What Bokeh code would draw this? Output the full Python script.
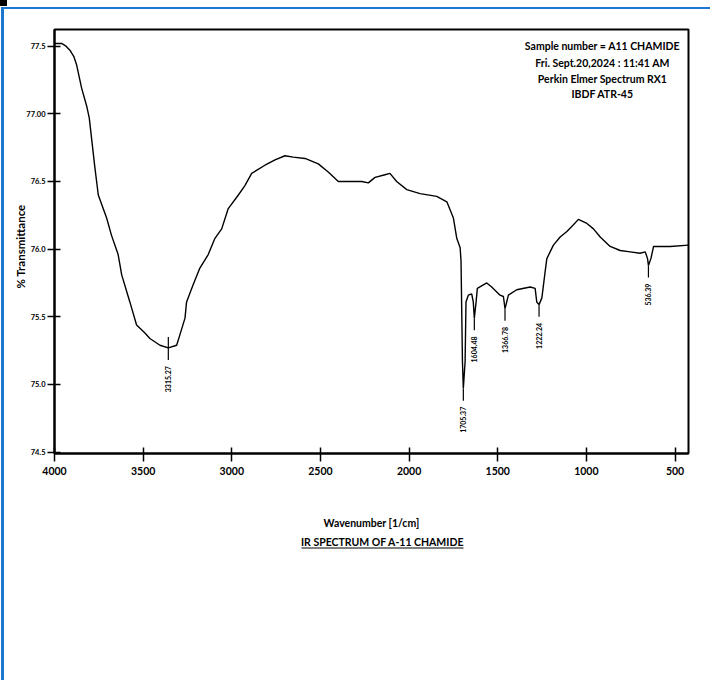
import math
from bokeh.plotting import figure
from bokeh.layouts import column
from bokeh.models import (Range1d, FixedTicker, CustomJSTickFormatter, Label, Title, Div)
from bokeh.core.properties import value
from bokeh.embed import file_html
from bokeh.resources import INLINE

# ---------------- data ----------------
wavenumber = [4000, 3960, 3935, 3913, 3890, 3875, 3847, 3819, 3804, 3791, 3772, 3753,
              3706, 3678, 3641, 3621, 3575, 3537, 3490, 3462, 3405, 3358, 3311, 3292,
              3264, 3255, 3217, 3180, 3133, 3095, 3057, 3020, 2963, 2926, 2888, 2813,
              2756, 2700, 2653, 2587, 2512, 2456, 2399, 2343, 2267, 2230, 2192, 2136,
              2108, 2070, 2013, 1938, 1844, 1787, 1750, 1731, 1712, 1707, 1699, 1694,
              1684, 1679, 1666, 1647, 1638, 1632, 1622, 1615, 1562, 1534, 1487, 1468,
              1459, 1453, 1440, 1393, 1317, 1289, 1280, 1267, 1251, 1233, 1223, 1186,
              1148, 1110, 1073, 1045, 997, 960, 922, 866, 809, 753, 697, 668, 655, 650,
              636, 621, 527, 424]
transmittance = [77.52, 77.52, 77.50, 77.47, 77.42, 77.36, 77.19, 77.06, 76.97, 76.82, 76.60, 76.40,
                 76.23, 76.10, 75.96, 75.81, 75.61, 75.44, 75.38, 75.34, 75.29, 75.27, 75.29, 75.37,
                 75.49, 75.61, 75.74, 75.86, 75.96, 76.08, 76.15, 76.30, 76.40, 76.47, 76.56, 76.62,
                 76.66, 76.69, 76.68, 76.67, 76.63, 76.57, 76.50, 76.50, 76.50, 76.49, 76.53, 76.55,
                 76.56, 76.50, 76.44, 76.41, 76.39, 76.35, 76.23, 76.08, 76.01, 75.91, 75.17, 74.97,
                 75.17, 75.61, 75.66, 75.67, 75.61, 75.49, 75.61, 75.71, 75.75, 75.72, 75.66, 75.65,
                 75.56, 75.59, 75.66, 75.70, 75.72, 75.71, 75.61, 75.59, 75.64, 75.83, 75.93, 76.03,
                 76.09, 76.13, 76.18, 76.22, 76.19, 76.15, 76.09, 76.02, 75.99, 75.98, 75.97, 75.98,
                 75.93, 75.88, 75.93, 76.02, 76.02, 76.03]

peak_pos = [3358, 1694, 1632, 1459, 1267, 650]
peak_T = [75.27, 74.97, 75.49, 75.56, 75.59, 75.88]
peak_labels = ["3315.27", "1705.37", "1604.48", "1366.78", "1222.24", "536.39"]

x_ticks = [4000, 3500, 3000, 2500, 2000, 1500, 1000, 500]
y_ticks = [77.5, 77.0, 76.5, 76.0, 75.5, 75.0, 74.5]

info_lines = ["Sample number = A11 CHAMIDE", "Fri. Sept.20,2024 : 11:41 AM",
              "Perkin Elmer Spectrum RX1", "IBDF ATR-45"]
caption = "IR SPECTRUM OF A-11 CHAMIDE"

# ---------------- layout (page pixels) ----------------
W, H = 713, 682
STRIP = 7                              # strip above the blue top border
OX = 4                                 # 1px margin + 3px blue left border
TOPB = 2                               # blue top border width
SPLIT = 532                            # page y where the chart figure ends
CW = W - OX
H1 = SPLIT - STRIP - TOPB
H2 = H - SPLIT
FL, FR, FT, FB = 54, 688, 29, 453      # frame edges in page pixels

def sx(px):
    return px - FL

def sy(py):
    return FB - py

FONT = "Lato"
BLUE = "#1a78d0"

# --- small black block in the top-left corner ---
block = Div(width=7, height=6, margin=(0, 0, 1, 0), styles={"background-color": "black"})

# --- main chart ---
p = figure(width=CW, height=H1, output_backend="svg", toolbar_location=None,
           x_range=Range1d(4000, 424), y_range=Range1d(74.49, 77.623),
           min_border_left=FL - OX, min_border_right=W - FR,
           min_border_top=FT - STRIP - TOPB, min_border_bottom=SPLIT - FB)
p.styles = {"margin-left": "1px",
            "border-left": "3px solid " + BLUE, "border-top": "2px solid " + BLUE}
p.background_fill_color = "white"
p.border_fill_color = "white"
p.outline_line_color = "black"
p.outline_line_width = 2
p.grid.visible = False

for ax in (p.xaxis[0], p.yaxis[0]):
    ax.axis_line_width = 2
    ax.axis_line_color = "black"
    ax.major_tick_line_width = 1.5
    ax.major_tick_line_color = "black"
    ax.minor_tick_line_color = None
    ax.major_label_text_font = FONT
    ax.major_label_text_font_style = "bold"
    ax.major_label_text_color = "black"

p.xaxis.ticker = FixedTicker(ticks=x_ticks)
p.xaxis.major_tick_in = 6
p.xaxis.major_tick_out = 8
p.xaxis.major_label_standoff = 5
p.xaxis.major_label_text_font_size = "10.5px"
p.xaxis.axis_label = "Wavenumber [1/cm]"
p.xaxis.axis_label_standoff = 39
p.xaxis.axis_label_text_font = FONT
p.xaxis.axis_label_text_font_style = "bold"
p.xaxis.axis_label_text_font_size = "10.5px"
p.xaxis.axis_label_text_color = "black"

p.yaxis.ticker = FixedTicker(ticks=y_ticks)
p.yaxis.formatter = CustomJSTickFormatter(code="return tick == 77 ? '77.00' : tick.toFixed(1);")
p.yaxis.major_tick_in = 6
p.yaxis.major_tick_out = 7
p.yaxis.major_label_standoff = 2
p.yaxis.major_label_text_font_size = "7.5px"

p.add_layout(Title(text="% Transmittance", align="left", offset=165, standoff=-7,
                   text_font=FONT, text_font_style="bold", text_font_size="11.5px",
                   text_color="black"), "left")

# spectrum
p.line(wavenumber, transmittance, line_color="black", line_width=1.4)

# peak markers and labels
seg_len = 0.09
gap = 0.045
p.segment(x0=peak_pos, y0=peak_T, x1=peak_pos, y1=[t - seg_len for t in peak_T],
          line_color="black", line_width=1.2)
p.segment(x0=peak_pos[:1], y0=[peak_T[0] + 0.08], x1=peak_pos[:1], y1=peak_T[:1],
          line_color="black", line_width=1.2)
p.text(x=peak_pos, y=[t - seg_len - gap for t in peak_T], text=peak_labels,
       angle=math.pi / 2, text_align="right", text_baseline="middle",
       text_font=value(FONT), text_font_style="bold", text_font_size="7px",
       text_color="black")

# info block
for line, py in zip(info_lines, [45.7, 62, 78, 93]):
    p.add_layout(Label(x=sx(602), y=sy(py), x_units="screen", y_units="screen",
                       text=line, text_align="center", text_baseline="middle",
                       text_font=FONT, text_font_style="bold", text_font_size="10.5px",
                       text_color="black"))

# --- lower part with the underlined caption ---
# (its frame is aligned with the chart frame by the column layout: page x FL..FR)
p2 = figure(width=CW, height=H2, output_backend="svg", toolbar_location=None,
            title_location=None, x_axis_type=None, y_axis_type=None, min_border=0,
            x_range=Range1d(FL, FR), y_range=Range1d(H, SPLIT))
p2.styles = {"margin-left": "1px", "border-left": "3px solid " + BLUE}
p2.outline_line_color = None
p2.grid.visible = False
p2.background_fill_color = "white"
p2.border_fill_color = "white"
p2.text(x=[382], y=[543], text=[caption], text_align="center", text_baseline="middle",
        text_font=value(FONT), text_font_style="bold", text_font_size="10.5px",
        text_color="black")
p2.segment(x0=[301], y0=[549.5], x1=[463], y1=[549.5], line_color="black", line_width=1)

layout = column(block, p, p2, spacing=0)
open("out.html", "w").write(file_html(layout, INLINE))
